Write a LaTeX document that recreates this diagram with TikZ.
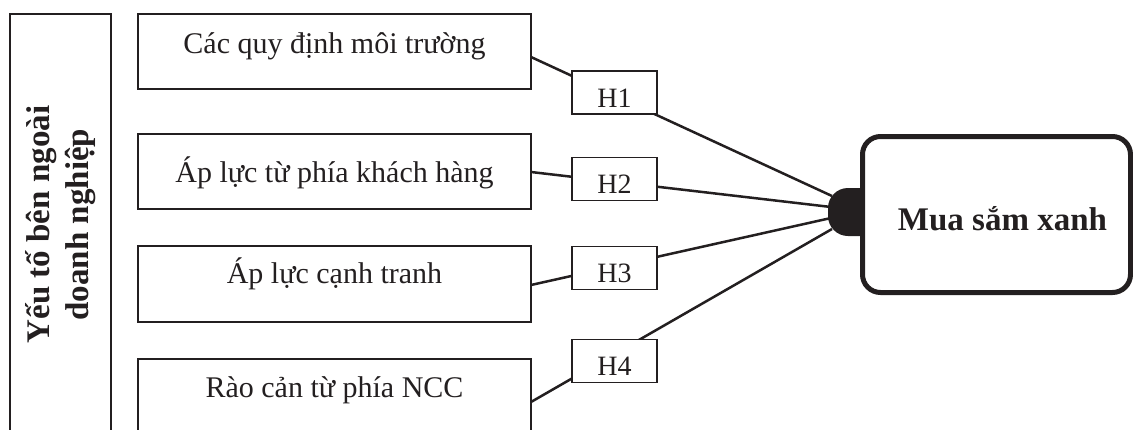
\documentclass[tikz,border=0pt]{standalone}
\usepackage{fontspec}
\setmainfont{Liberation Serif}
\usetikzlibrary{calc}
\definecolor{ink}{RGB}{35,31,32}
\begin{document}
\begin{tikzpicture}[x=1pt,y=-1pt,
  every node/.style={inner sep=0pt, outer sep=0pt},
  factor/.style={draw=ink, line width=1.2pt, minimum width=393pt, anchor=north, font=\fontsize{30}{36}\selectfont, text=ink},
  hyp/.style={draw=ink, line width=1.2pt, fill=white, minimum width=85pt, minimum height=43pt, text height=29pt, text depth=0pt, font=\fontsize{28}{34}\selectfont, text=ink},
  conn/.style={draw=ink, line width=2.5pt},
  goalbox/.style={draw=ink, line width=5pt, rounded corners=18pt, minimum width=268pt, minimum height=156pt, font=\bfseries\fontsize{33}{40}\selectfont, text=ink, text height=31pt, text depth=0pt},
  groupbox/.style={draw=ink, line width=1.2pt, rotate=90, minimum width=421pt, minimum height=101pt, align=center, font=\bfseries\fontsize{33}{39}\selectfont, text=ink}
]
\useasboundingbox (0,0) rectangle (1133,429);
\clip (0,0) rectangle (1133,429);

\node[groupbox] (grp) at (60.5,224.5) {Yếu tố bên ngoài\\doanh nghiệp};

\node[factor, text height=39pt, text depth=36pt] (b1) at (334.5,14) {Các quy định môi trường};
\node[factor, text height=48pt, text depth=27pt] (b2) at (334.5,134) {Áp lực từ phía khách hàng};
\node[factor, text height=37pt, text depth=39pt] (b3) at (334.5,246) {Áp lực cạnh tranh};
\node[factor, text height=38pt, text depth=37pt] (b4) at (334.5,359) {Rào cản từ phía NCC};

\coordinate (t1) at (832,196);
\coordinate (t2) at (831,207);
\coordinate (t3) at (831,218);
\coordinate (t4) at (832,229);

\draw[conn] ($(b1.north east)+(0,43)$) -- (t1);
\draw[conn] ($(b2.north east)+(0,38)$) -- (t2);
\draw[conn] ($(b3.north east)+(0,39)$) -- (t3);
\draw[conn] ($(b4.north east)+(0,43)$) -- (t4);

\node[hyp] (h1) at (614.5,92.5) {H1};
\node[hyp] (h2) at (614.5,179) {H2};
\node[hyp] (h3) at (614.5,268) {H3};
\node[hyp] (h4) at (614.5,361) {H4};

\fill[ink, rounded corners=20pt] (862,188) -- (828,188) -- (828,236) -- (862,236);
\node[goalbox] (goal) at (996.5,214.5) {\hspace*{12pt}Mua sắm xanh};
\end{tikzpicture}
\end{document}
